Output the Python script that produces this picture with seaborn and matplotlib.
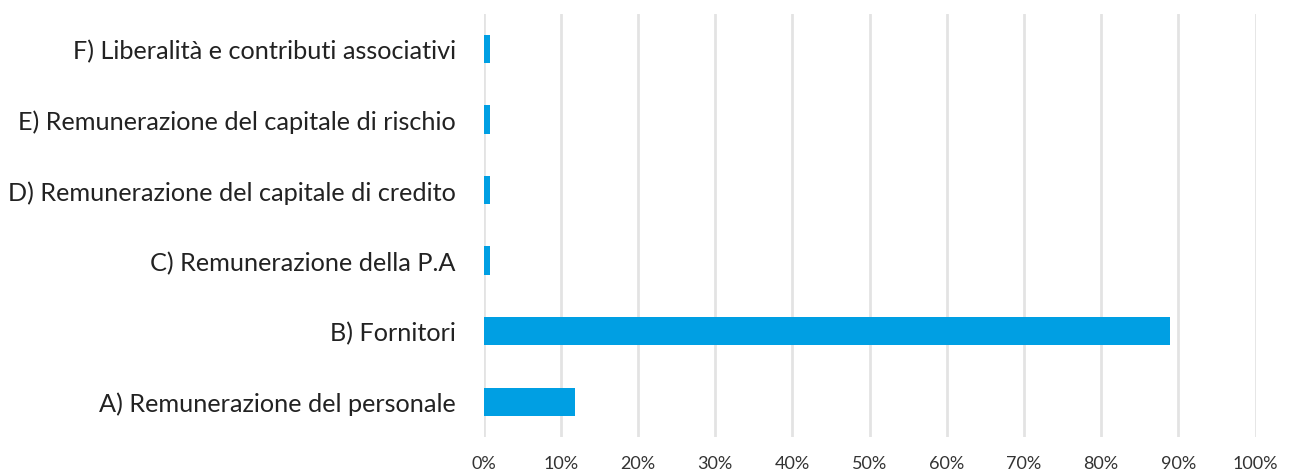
import pandas as pd
import numpy as np
import matplotlib.pyplot as plt
import seaborn as sns
from matplotlib.ticker import PercentFormatter

categories = [
    "F) Liberalità e contributi associativi",
    "E) Remunerazione del capitale di rischio",
    "D) Remunerazione del capitale di credito",
    "C) Remunerazione della P.A",
    "B) Fornitori",
    "A) Remunerazione del personale",
]
shares = [0.008, 0.008, 0.008, 0.008, 0.889, 0.118]

df = pd.DataFrame({"categoria": categories, "quota": shares})

sns.set_style("white")
plt.rcParams['font.family'] = ['Lato', 'DejaVu Sans']

fig = plt.figure(figsize=(12.93, 4.77), dpi=100)
ax = fig.add_axes([0.374, 0.082, 0.597, 0.887])

sns.barplot(data=df, y="categoria", x="quota", color="#009FE3", width=0.4,
            saturation=1, ax=ax, orient="h", linewidth=0)

ax.set_xlim(0, 1)
ax.set_ylim(5.5, -0.5)
ax.set_xticks(np.arange(0, 1.01, 0.1))
ax.xaxis.set_major_formatter(PercentFormatter(1, decimals=0))
ax.grid(axis="x", color="#e3e3e3", linewidth=2)
ax.set_axisbelow(True)
for s in ax.spines.values():
    s.set_visible(False)
ax.set_xlabel("")
ax.set_ylabel("")
ax.tick_params(axis="y", length=0, pad=20, labelsize=18.2, labelcolor="#222222")
ax.tick_params(axis="x", length=0, pad=13, labelsize=13, labelcolor="#333333")

fig.savefig("out.png", dpi=100)
